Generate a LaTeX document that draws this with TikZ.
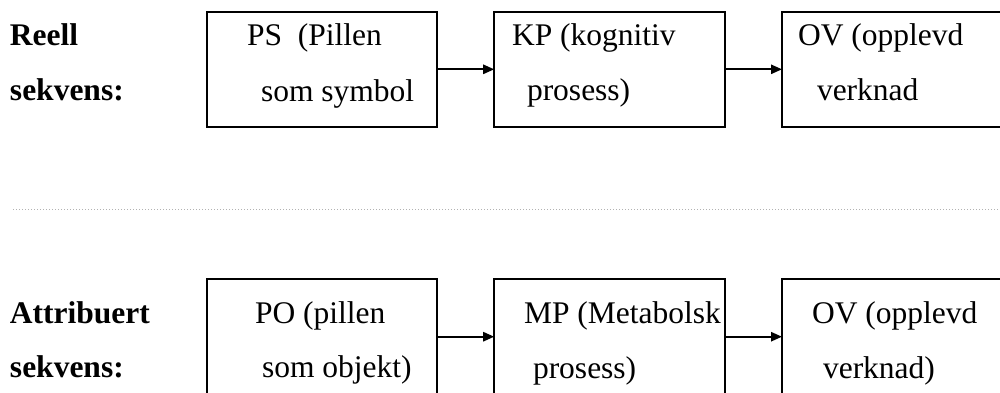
\documentclass[tikz,border=0pt]{standalone}
\usepackage{fontspec}
\setmainfont{Liberation Serif}
\usetikzlibrary{arrows.meta}

\begin{document}
\begin{tikzpicture}[x=0.5pt, y=-0.5pt,
  every node/.style={font=\fontsize{15.75}{18}\selectfont},
  stagebox/.style={draw=black, line width=1pt, minimum width=115.3pt,
    minimum height=57.6pt, inner sep=0pt, outer sep=0pt},
  boxline/.style={anchor=base west, inner sep=0pt, outer sep=0pt},
  rowlabel/.style={anchor=base west, inner sep=0pt, outer sep=0pt,
    font=\fontsize{15.75}{18}\selectfont\bfseries},
  flow/.style={line width=1pt, -{Triangle[length=5.5pt, width=4.6pt]}},
  divider/.style={draw=black!30, line width=0.5pt, dash pattern=on 0.5pt off 1pt}]

  % page frame: 1000 x 392 px
  \useasboundingbox (0,0) rectangle (1000,392);
  \clip (0,0) rectangle (1000,392);

  % ---------- real sequence ----------
  \node[rowlabel] (reellA) at (10,45)  {Reell};
  \node[rowlabel] (reellB) at (10,100) {sekvens:};

  \node[stagebox] (ps) at (321.8,69.3) {};
  \node[stagebox] (kp) at (609.5,69.3) {};
  \node[stagebox] (ovA) at (897.3,69.3) {};

  \node[boxline] (psA) at (247,45)  {PS\ \ (Pillen};
  \node[boxline] (psB) at (261,101) {som symbol};
  \node[boxline] (kpA) at (512,45)  {KP (kognitiv};
  \node[boxline] (kpB) at (527,100) {prosess)};
  \node[boxline] (ovAa) at (798,45) {OV (opplevd};
  \node[boxline] (ovAb) at (817,100) {verknad};

  \draw[flow] (ps.east) -- (kp.west);
  \draw[flow] (kp.east) -- (ovA.west);

  % ---------- separator ----------
  \coordinate (sepL) at (13,209);
  \coordinate (sepR) at (1000,209);
  \draw[divider] (sepL) -- (sepR);

  % ---------- attributed sequence ----------
  \node[rowlabel] (attrA) at (10,323) {Attribuert};
  \node[rowlabel] (attrB) at (10,377) {sekvens:};

  \node[stagebox] (po) at (321.8,336.7) {};
  \node[stagebox] (mp) at (609.5,336.7) {};
  \node[stagebox] (ovB) at (897.3,336.7) {};

  \node[boxline] (poA) at (255,323) {PO (pillen};
  \node[boxline] (poB) at (262,377) {som objekt)};
  \node[boxline] (mpA) at (524,323) {MP (Metabolsk};
  \node[boxline] (mpB) at (533,378) {prosess)};
  \node[boxline] (ovBa) at (812,323) {OV (opplevd};
  \node[boxline] (ovBb) at (823,378) {verknad)};

  \draw[flow] (po.east) -- (mp.west);
  \draw[flow] (mp.east) -- (ovB.west);
\end{tikzpicture}
\end{document}
